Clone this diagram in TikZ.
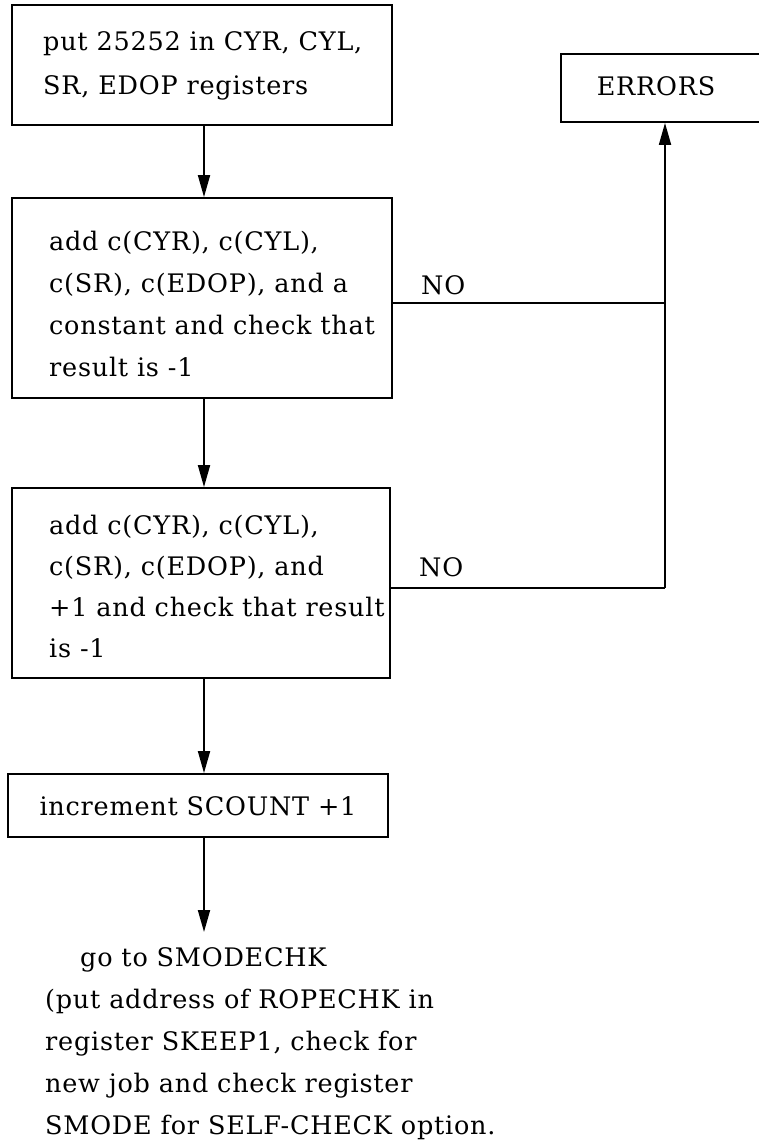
\documentclass[tikz,border=0pt]{standalone}
\usepackage{fontspec}
\setmainfont{DejaVu Serif}[LetterSpace=3]
\usetikzlibrary{arrows.meta}
\begin{document}
\begin{tikzpicture}[x=1pt,y=-1pt,
  boxshape/.style={draw, line width=1.8pt, rectangle, inner sep=0pt},
  txt/.style={inner sep=0pt, align=left, anchor=base west, font=\fontsize{25.5}{42}\selectfont},
  lbl/.style={inner sep=0pt, anchor=base west, font=\fontsize{25.5}{30}\selectfont},
  conn/.style={line width=1.8pt},
  arr/.style={line width=1.8pt, -{Triangle[length=22pt,width=12pt]}}]
\useasboundingbox (0,0) rectangle (758,1142);
% boxes
\node[boxshape, minimum width=380pt, minimum height=120pt] (b1) at (202,65) {};
\node[boxshape, minimum width=380pt, minimum height=200pt] (b2) at (202,298) {};
\node[boxshape, minimum width=378pt, minimum height=190pt] (b3) at (201,583) {};
\node[boxshape, minimum width=380pt, minimum height=63pt] (b4) at (198,805.5) {};
\node[boxshape, minimum width=212pt, minimum height=68pt] (err) at (667,88) {};
% texts (base anchor = baseline of the last line)
\node[txt, font=\fontsize{25.5}{44}\selectfont] (t1) at (43,95) {put 25252 in CYR, CYL,\\SR, EDOP registers};
\node[txt] (t2) at (49,376) {add c(CYR), c(CYL),\\c(SR), c(EDOP), and a\\constant and check that\\result is -1};
\node[txt, font=\fontsize{25.5}{41}\selectfont] (t3) at (49,657) {add c(CYR), c(CYL),\\c(SR), c(EDOP), and\\+1 and check that result\\is -1};
\node[txt, anchor=base] (t4) at (198,815) {increment SCOUNT +1};
\node[txt, anchor=base] (terr) at (656,96) {ERRORS};
\node[lbl] (no1) at (421,294) {NO};
\node[lbl] (no2) at (419,576) {NO};
\node[txt] (t5) at (45,1134) {\hspace*{35pt}go to SMODECHK\\(put address of ROPECHK in\\register SKEEP1, check for\\new job and check register\\SMODE for SELF-CHECK option.};
% connectors
\coordinate (ax) at (204,0);
\coordinate (j1) at (665,303);
\coordinate (j2) at (665,588);
\coordinate (fin) at (204,932);
\draw[arr] (b1.south -| ax) -- (b2.north -| ax);
\draw[arr] (b2.south -| ax) -- (b3.north -| ax);
\draw[arr] (b3.south -| ax) -- (b4.north -| ax);
\draw[arr] (b4.south -| ax) -- (fin);
\draw[conn] (b2.east |- j1) -- (j1);
\draw[conn] (b3.east |- j2) -- (j2);
\draw[arr] (j2) -- (j2 |- err.south);
\end{tikzpicture}
\end{document}
